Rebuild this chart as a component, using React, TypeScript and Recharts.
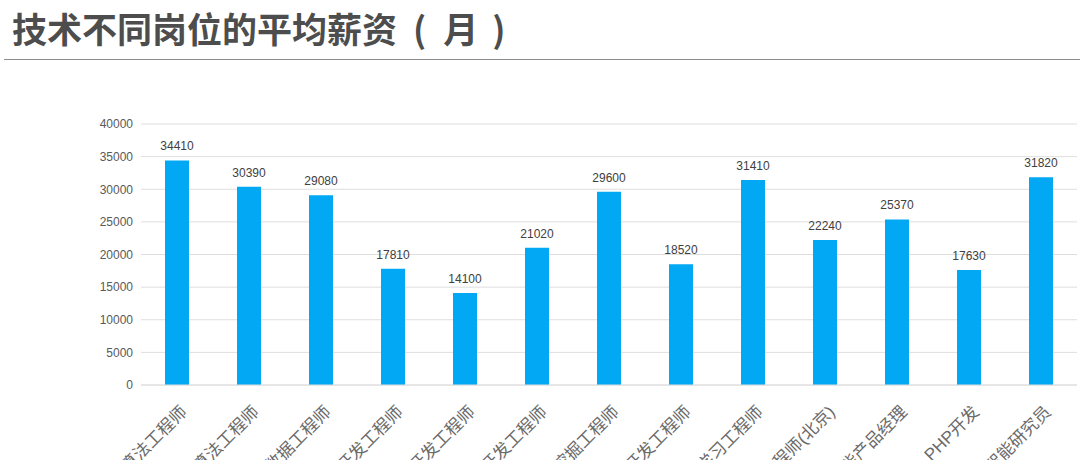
import { BarChart, Bar, XAxis, YAxis, CartesianGrid, LabelList } from "recharts";

const JOBS = [
  "推荐算法工程师",
  "图像算法工程师",
  "大数据工程师",
  "Android开发工程师",
  "iOS开发工程师",
  "前端开发工程师",
  "数据挖掘工程师",
  "测试开发工程师",
  "深度学习工程师",
  "算法工程师(北京)",
  "人工智能产品经理",
  "PHP开发",
  "人工智能研究员",
];
const SALARY = [34410, 30390, 29080, 17810, 14100, 21020, 29600, 18520, 31410, 22240, 25370, 17630, 31820];
const Y_TICKS = [0, 5000, 10000, 15000, 20000, 25000, 30000, 35000, 40000];

const FONT = '"Liberation Sans", Arial, "Noto Sans CJK SC", sans-serif';
const BAR = "#02a8f3";

const data = JOBS.map((name, i) => ({ name, salary: SALARY[i] }));

function JobTick({ x, y, payload }: any) {
  const ax = x + 11;
  const ay = y + 20;
  return (
    <text
      x={ax}
      y={ay}
      transform={`rotate(-45, ${ax}, ${ay})`}
      textAnchor="end"
      fontSize={17}
      fill="#6a6a6a"
      fontFamily={FONT}
    >
      {payload.value}
    </text>
  );
}

export default function App() {
  return (
    <div style={{ position: "absolute", left: 0, top: 0, width: 1080, height: 560, background: "#fff", fontFamily: FONT }}>
      <div
        style={{
          position: "absolute",
          left: 12,
          top: 4,
          fontSize: 35,
          fontWeight: 700,
          color: "#4d4d4d",
          fontFamily: '"Noto Sans CJK SC", sans-serif',
          lineHeight: "48px",
          whiteSpace: "nowrap",
        }}
      >
        技术不同岗位的平均薪资
        <span style={{ marginLeft: 16 }}>(</span>
        <span style={{ marginLeft: 17 }}>月</span>
        <span style={{ marginLeft: 14 }}>)</span>
      </div>
      <div style={{ position: "absolute", left: 4, right: 0, top: 59, height: 1, background: "#8c8c8c" }} />
      <div style={{ position: "absolute", left: 0, top: 0 }}>
        <BarChart
          width={1080}
          height={560}
          data={data}
          margin={{ top: 124, right: 3, left: 81, bottom: 75 }}
          barCategoryGap={48}
        >
          <CartesianGrid stroke="#dedede" vertical={false} />
          <XAxis
            dataKey="name"
            interval={0}
            height={100}
            axisLine={{ stroke: "#dedede" }}
            tickLine={false}
            tick={<JobTick />}
          />
          <YAxis
            domain={[0, 40000]}
            ticks={Y_TICKS}
            width={60}
            axisLine={false}
            tickLine={false}
            tickSize={0}
            tickMargin={8}
            tick={{ fontSize: 12, fill: "#595959", fontFamily: FONT }}
          />
          <Bar dataKey="salary" fill={BAR} barSize={24} isAnimationActive={false}>
            <LabelList dataKey="salary" position="top" offset={10} fontSize={12} fill="#404040" fontFamily={FONT} />
          </Bar>
        </BarChart>
      </div>
    </div>
  );
}
